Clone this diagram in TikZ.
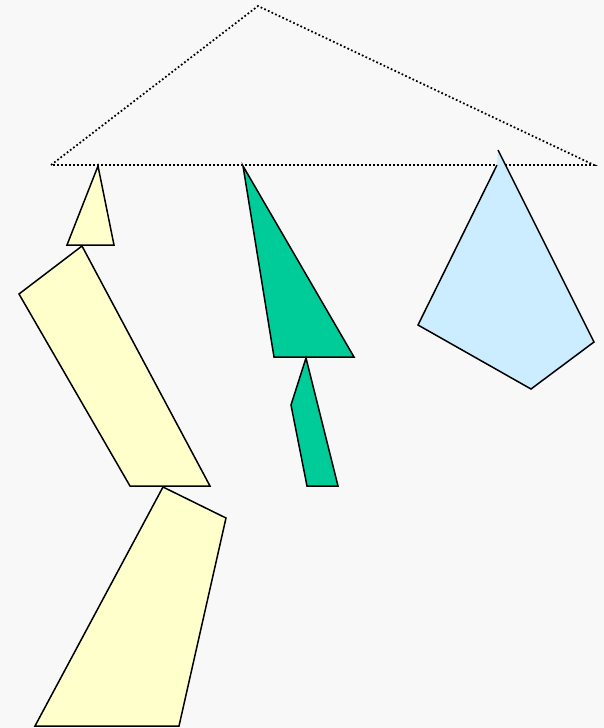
\documentclass[tikz,border=0pt]{standalone}
\usepackage{tikz}
\definecolor{bgray}{HTML}{F8F8F8}
\definecolor{paleyellow}{HTML}{FFFFCC}
\definecolor{seagreen}{HTML}{00CC99}
\definecolor{paleblue}{HTML}{CCECFF}

\begin{document}
\begin{tikzpicture}[x=0.02cm, y=-0.02cm,
    piece/.style={draw=black, line width=0.03cm, line join=miter},
    hanger/.style={draw=black, line width=0.035cm, dash pattern=on 0.035cm off 0.045cm}]
    % Background and frame of the picture
    \fill[bgray] (0, 0) rectangle (604, 728);
    \useasboundingbox (0, 0) rectangle (604, 728);

    % Dotted hanger
    \draw[hanger] (51, 165) -- (258, 6) -- (594, 165) -- cycle;

    % Yellow pieces on the left
    \filldraw[piece, fill=paleyellow] (98, 166) -- (114, 245) -- (67, 245) -- cycle;
    \filldraw[piece, fill=paleyellow] (82, 246) -- (210, 486) -- (130, 486) -- (19, 294) -- cycle;
    \filldraw[piece, fill=paleyellow] (163, 487) -- (226, 518) -- (179, 726) -- (35, 726) -- cycle;

    % Green pieces in the middle
    \filldraw[piece, fill=seagreen] (243, 166) -- (354, 357) -- (274, 357) -- cycle;
    \filldraw[piece, fill=seagreen] (306, 358) -- (338, 486) -- (307, 486) -- (291, 405) -- cycle;

    % Blue kite on the right
    \fill[paleblue] (498, 150) -- (594, 342) -- (531, 389) -- (418, 325) -- (497, 165) -- cycle;
    \draw[piece] (497, 165) -- (418, 325) -- (531, 389) -- (594, 342) -- (498, 150);
\end{tikzpicture}
\end{document}
